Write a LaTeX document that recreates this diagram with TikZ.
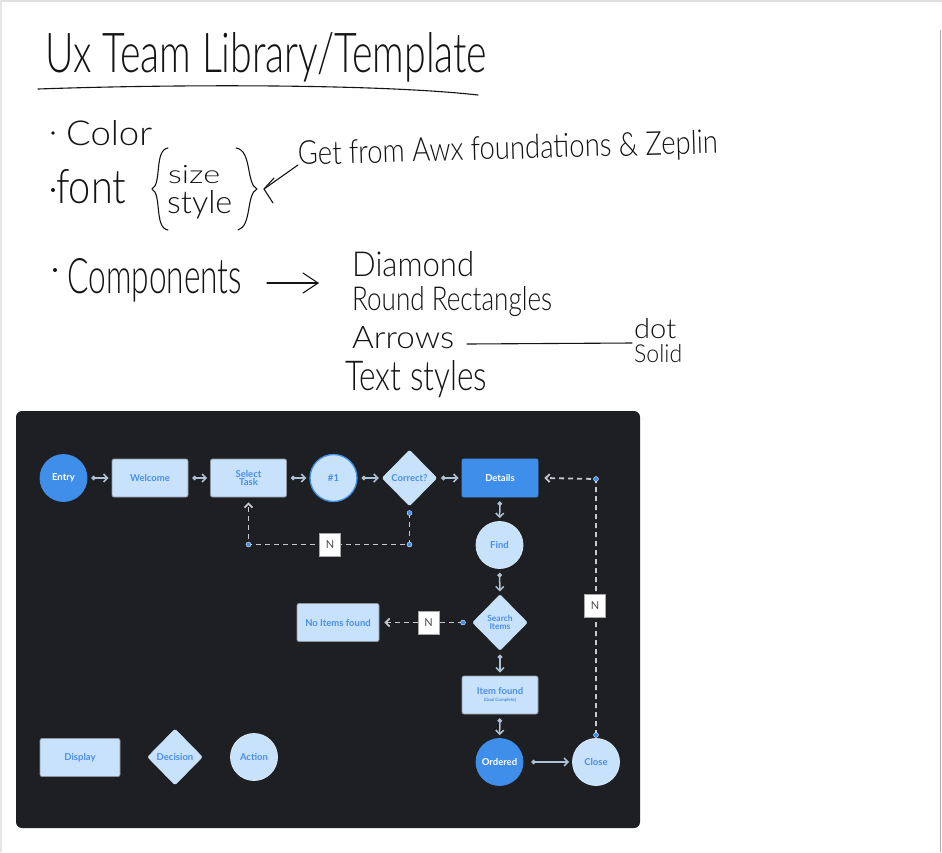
\documentclass[tikz,border=0pt]{standalone}
\usepackage{fontspec}
\usepackage{graphicx}
\setmainfont{Lato}
\newfontfamily\uifont{Lato}
\IfFontExistsTF{Lato Light}{\newfontfamily\handfont{Lato Light}}{%
  \IfFontExistsTF{DejaVu Sans ExtraLight}{\newfontfamily\handfont{DejaVu Sans ExtraLight}}{%
    \newfontfamily\handfont{Lato}}}
\usetikzlibrary{shapes.geometric,arrows.meta}
\definecolor{panel}{HTML}{1E1F22}
\definecolor{bluefill}{HTML}{3F8EEA}
\definecolor{lightfill}{HTML}{C9E2FB}
\definecolor{bluetext}{HTML}{4A8FEA}
\definecolor{nodeborder}{HTML}{8E959E}
\definecolor{conn}{HTML}{AFC0D4}
\definecolor{dashc}{HTML}{C5C9CF}
\definecolor{dotblue}{HTML}{3F8EEA}
\definecolor{ink}{HTML}{141414}
\newcommand\hw[3]{\resizebox{#1pt}{#2pt}{\handfont #3}}
\tikzset{
  hand/.style={anchor=base west, inner sep=0pt, text=ink},
  ink line/.style={draw=ink, line width=1.1pt, line cap=round, line join=round},
  uitext/.style={font=\uifont\bfseries\fontsize{9.5}{10}\selectfont, text=bluetext, align=center},
  rectnode/.style={rectangle, rounded corners=2pt, fill=lightfill, draw=nodeborder, line width=0.8pt,
    minimum width=76pt, minimum height=38pt, inner sep=1pt, uitext},
  circnode/.style={circle, fill=lightfill, draw=lightfill!80!white, line width=0.8pt,
    minimum size=47pt, inner sep=0pt, uitext},
  bluecirc/.style={circnode, fill=bluefill, draw=bluefill, text=white},
  dia/.style={diamond, fill=lightfill, draw=lightfill, minimum width=55pt, minimum height=56pt,
    inner sep=0pt, rounded corners=1.5pt},
  dtext/.style={uitext, inner sep=0pt},
  flow/.style={draw=conn, line width=1.5pt, shorten <=4pt, shorten >=3pt,
    {Circle[length=4.5pt, fill=conn]}-{Straight Barb[length=4pt, width=8pt]}},
  dashflow/.style={draw=dashc, line width=1.8pt, dash pattern=on 5pt off 4pt},
  dashend/.style={dashflow, -{Straight Barb[length=4pt, width=8pt]}},
  bdot/.style={circle, fill=dotblue, draw=white, line width=0.3pt, inner sep=0pt, minimum size=5pt},
  nbox/.style={rectangle, fill=white, draw=gray!70, line width=0.6pt, minimum width=21pt, minimum height=23pt,
    inner sep=0pt, font=\uifont\fontsize{11}{12}\selectfont, text=black!70}
}
\begin{document}
\begin{tikzpicture}[x=1pt,y=-1pt]
\useasboundingbox (0,0) rectangle (942,852);
\fill[white] (0,0) rectangle (942,852);
% page edges
\draw[gray!25, line width=2pt] (0,1) -- (942,1);
\draw[gray!20, line width=2pt] (1,0) -- (1,852);
\draw[gray!65, line width=1.5pt] (940.5,30) -- (940.5,852);

% ---------- handwritten notes ----------
\node[hand] (title) at (45,72) {\hw{442}{40}{Ux Team Library/Template}};
\draw[ink line] (38,89) .. controls (180,84) and (380,84) .. (478,95);

\fill[ink] (53,133) circle (1.8pt);
\node[hand] (color) at (66,145) {\hw{86}{25}{Color}};
\fill[ink] (53,190) circle (2pt);
\node[hand] (font) at (56,203) {\hw{70}{34}{font}};
\draw[ink line] (168,148) .. controls (154,150) and (162,184) .. (152,189) .. controls (162,194) and (154,228) .. (168,230);
\node[hand] (size) at (168,183) {\hw{52}{18}{size}};
\node[hand] (style) at (167,213) {\hw{65}{23}{style}};
\draw[ink line] (236,148) .. controls (252,150) and (246,184) .. (257,189) .. controls (246,194) and (252,226) .. (238,230);
\node[hand, rotate=1.6] (get) at (298,165) {\hw{420}{24}{Get from Awx foundations \& Zeplin}};
\coordinate (brtip) at (264,189);
\draw[ink line] (get.base west) -- (brtip);
\draw[ink line] (274,178) -- (brtip) -- (273,203);

\fill[ink] (55,270) circle (2pt);
\node[hand] (comp) at (67,293) {\hw{175}{35}{Components}};
\coordinate (c1) at (267,283);
\coordinate (c2) at (318,283);
\draw[ink line] (c1) -- (c2);
\draw[ink line] (303,273) -- (c2) -- (303,293);

\node[hand] (diamondtxt) at (352,276) {\hw{122}{25}{Diamond}};
\node[hand] (roundtxt) at (352,310) {\hw{200}{24}{Round Rectangles}};
\node[hand] (arrowstxt) at (352,348) {\hw{102}{22}{Arrows}};
\node[hand] (dottxt) at (634,338) {\hw{42}{20}{dot}};
\node[hand] (solidtxt) at (634,362) {\hw{48}{18}{Solid}};
\node[hand] (textstyles) at (345,390) {\hw{142}{30}{Text styles}};
\coordinate (l1) at (467,344);
\coordinate (l2) at (632,343);
\draw[ink line] (l1) -- (l2);

% ---------- dark panel ----------
\fill[panel, rounded corners=6pt] (16,411) rectangle (640,828);

\node[bluecirc] (entry) at (63.5,478) {Entry};
\node[rectnode] (welcome) at (150,478) {Welcome};
\node[rectnode] (task) at (248.5,478) {Select\\[-2pt]Task};
\node[circnode, draw=dotblue, line width=1.3pt] (one) at (333.5,478) {\#1};
\node[dia, label={[dtext]center:Correct?}] (correct) at (409.5,478) {};
\node[rectnode, fill=bluefill, draw=bluefill, text=white] (details) at (500,478) {Details};
\node[circnode] (find) at (499.5,545) {Find};
\node[dia, label={[dtext, font=\uifont\bfseries\fontsize{8.5}{8.5}\selectfont]center:{Search\\Items}}] (search) at (500,622.5) {};
\node[rectnode, minimum width=82pt] (noitems) at (338,622.5) {No Items found};
\node[rectnode] (item) at (500,695) {Item found\\[-3pt]{\fontsize{4.5}{5}\selectfont(Goal Complete)}};
\node[bluecirc] (ordered) at (499.5,762) {Ordered};
\node[circnode] (close) at (596,762) {Close};
\node[rectnode, minimum width=80pt] (display) at (80,757.5) {Display};
\node[dia, label={[dtext]center:Decision}] (decision) at (175,757) {};
\node[circnode] (action) at (254,757) {Action};

% solid connectors
\draw[flow] (entry) -- (welcome);
\draw[flow] (welcome) -- (task);
\draw[flow] (task) -- (one);
\draw[flow] (one) -- (correct);
\draw[flow] (correct) -- (details);
\draw[flow] (details) -- (find);
\draw[flow] (find) -- (search);
\draw[flow] (search) -- (item);
\draw[flow] (item) -- (ordered);
\draw[flow, shorten <=8pt] (ordered) -- (close);

% dashed connectors
\coordinate (a1) at (409.5,513);
\coordinate (a2) at (409.5,544.5);
\coordinate (a3) at (248.5,544.5);
\draw[dashend] (a1) -- (a2) -- (a3) -- ([yshift=-5pt]task.south);
\coordinate (b1) at (463,622.5);
\draw[dashend] (b1) -- ([xshift=5pt]noitems.east);
\coordinate (e1) at (596,735);
\coordinate (e2) at (596,479);
\draw[dashend] (e1) -- (e2) -- ([xshift=6pt]details.east);

\foreach \p in {a1,a2,a3,b1,e1,e2} \node[bdot] at (\p) {};

\node[nbox] (n1) at (330,544.5) {N};
\node[nbox] (n2) at (428.5,622.5) {N};
\node[nbox] (n3) at (595,606) {N};
\end{tikzpicture}
\end{document}
